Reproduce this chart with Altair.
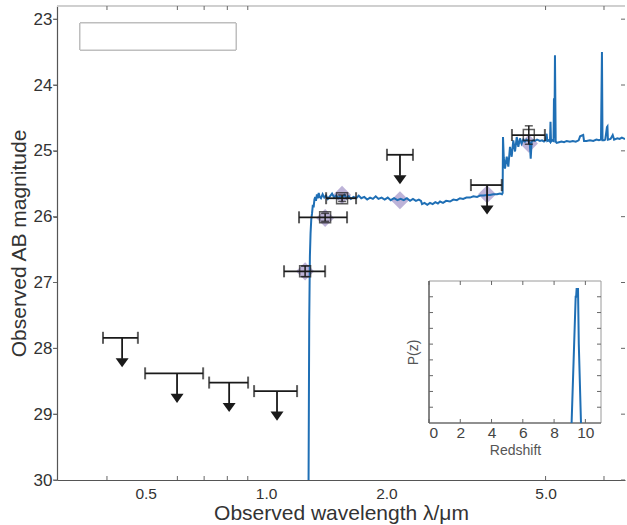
import altair as alt
import pandas as pd

# ---- best-fit template spectrum (observed wavelength in micron, AB mag) ----
spec_lam = [1.276, 1.282, 1.287, 1.292, 1.297, 1.303, 1.309, 1.315, 1.321, 1.327,
            1.333, 1.340, 1.347, 1.354, 1.362, 1.372, 1.385, 1.398, 1.412, 1.427,
            1.445, 1.462, 1.480, 1.497, 1.515, 1.531, 1.550, 1.570, 1.590, 1.610,
            1.630, 1.655, 1.680, 1.705, 1.730, 1.760, 1.790, 1.820, 1.850, 1.880,
            1.910, 1.945, 1.980, 2.015, 2.050, 2.090, 2.130, 2.170, 2.210, 2.250,
            2.291, 2.330, 2.370, 2.410, 2.440, 2.455, 2.490, 2.530, 2.570, 2.610,
            2.650, 2.690, 2.723, 2.770, 2.820, 2.884, 2.940, 3.000, 3.055, 3.110,
            3.170, 3.236, 3.300, 3.370, 3.428, 3.500, 3.570, 3.631, 3.700, 3.780,
            3.846, 3.890, 3.905, 3.913, 3.930, 3.958, 3.998, 4.035, 4.074, 4.114,
            4.152, 4.194, 4.235, 4.274, 4.315, 4.357, 4.397, 4.440, 4.480, 4.530,
            4.565, 4.590, 4.615, 4.660, 4.705, 4.760, 4.842, 4.900, 4.955, 5.000,
            5.031, 5.050, 5.090, 5.129, 5.144, 5.160, 5.200, 5.235, 5.248, 5.262,
            5.278, 5.300, 5.330, 5.400, 5.480, 5.560, 5.650, 5.754, 5.850, 5.950,
            6.050, 6.100, 6.210, 6.240, 6.330, 6.457, 6.580, 6.700, 6.800, 6.880,
            6.918, 6.940, 7.000, 7.050, 7.120, 7.140, 7.160, 7.270, 7.360, 7.420,
            7.560, 7.660, 7.760, 7.900]
spec_mag = [30.60, 27.60, 26.60, 26.25, 26.05, 25.95, 25.82, 25.86, 25.74, 25.70,
            25.76, 25.66, 25.72, 25.64, 25.70, 25.72, 25.66, 25.71, 25.68, 25.73,
            25.69, 25.65, 25.71, 25.68, 25.72, 25.69, 25.71, 25.67, 25.72, 25.69,
            25.73, 25.70, 25.72, 25.68, 25.72, 25.70, 25.74, 25.71, 25.73, 25.69,
            25.73, 25.71, 25.74, 25.71, 25.75, 25.72, 25.75, 25.73, 25.75, 25.72,
            25.76, 25.73, 25.76, 25.74, 25.76, 25.81, 25.79, 25.82, 25.79, 25.81,
            25.78, 25.80, 25.77, 25.79, 25.76, 25.77, 25.74, 25.75, 25.72, 25.73,
            25.71, 25.71, 25.69, 25.70, 25.68, 25.68, 25.67, 25.67, 25.66, 25.66,
            25.65, 25.66, 25.64, 24.79, 25.10, 25.27, 25.09, 25.24, 24.94, 25.09,
            24.84, 25.01, 24.79, 24.94, 24.81, 24.89, 24.83, 24.86, 24.83, 24.85,
            24.88, 25.12, 24.86, 24.84, 24.85, 24.83, 24.85, 24.84, 24.86, 24.84,
            24.74, 24.85, 24.84, 24.86, 24.56, 24.86, 24.84, 24.85, 24.20, 24.80,
            23.55, 24.86, 24.88, 24.87, 24.86, 24.87, 24.85, 24.86, 24.85, 24.86,
            24.84, 24.78, 24.76, 24.85, 24.85, 24.84, 24.85, 24.83, 24.84, 24.83,
            23.50, 24.84, 24.84, 24.83, 24.64, 24.63, 24.83, 24.82, 24.76, 24.83,
            24.81, 24.82, 24.80, 24.82]

# ---- model photometry in each band ----
model_lam = [1.252, 1.405, 1.549, 2.162, 3.570, 4.540]
model_mag = [26.83, 26.02, 25.67, 25.75, 25.66, 24.89]

# ---- detections ----
det_lam = [1.252, 1.405, 1.549, 4.540]
det_lo = [1.109, 1.209, 1.413, 4.120]
det_hi = [1.405, 1.594, 1.679, 4.980]
det_mag = [26.83, 26.01, 25.72, 24.76]
det_err = [0.08, 0.06, 0.05, 0.14]

# ---- upper limits ----
lim_lam = [0.4365, 0.5989, 0.8084, 1.065, 2.162, 3.570]
lim_lo = [0.391, 0.4983, 0.7204, 0.9333, 2.006, 3.253]
lim_hi = [0.478, 0.696, 0.9016, 1.1954, 2.330, 3.886]
lim_mag = [27.84, 28.38, 28.52, 28.65, 25.06, 25.52]

# ---- redshift probability distribution ----
pz_z = [9.12, 9.38, 9.41, 9.44, 9.53, 9.58, 9.72]
pz_p = [0.0, 8.0, 8.0, 8.5, 8.5, 5.0, 0.0]

x_ticks = [0.5, 1.0, 2.0, 5.0]
x_minor = [0.4, 0.6, 0.7, 0.8, 0.9, 5.0, 7.0]
y_ticks = [23, 24, 25, 26, 27, 28, 29, 30]
z_ticks = [0, 2, 4, 6, 8, 10]
p_ticks = [1, 2, 3, 4, 5, 6, 7, 8]

X_DOM = [0.3, 7.9]
Y_DOM = [22.8, 30]
Z_DOM = [0, 11]
P_DOM = [0, 9]

W, H = 568, 474
BLUE = "#1f6fb5"
INK = "#1a1a1a"
TICK = "#666666"
FONT = "Liberation Sans"

spec = pd.DataFrame({"lam": spec_lam, "mag": spec_mag})
model = pd.DataFrame({"lam": model_lam, "mag": model_mag})
det = pd.DataFrame({"lam": det_lam, "lo": det_lo, "hi": det_hi, "mag": det_mag,
                    "top": [m - e for m, e in zip(det_mag, det_err)],
                    "bot": [m + e for m, e in zip(det_mag, det_err)]})
lim = pd.DataFrame({"lam": lim_lam, "lo": lim_lo, "hi": lim_hi, "mag": lim_mag})
caps = pd.DataFrame({"lam": det_lo + det_hi + lim_lo + lim_hi,
                     "mag": det_mag + det_mag + lim_mag + lim_mag})
vcaps = pd.DataFrame({"lam": det_lam + det_lam,
                      "mag": [m - e for m, e in zip(det_mag, det_err)] +
                             [m + e for m, e in zip(det_mag, det_err)]})
pz = pd.DataFrame({"z": pz_z, "p": pz_p})
inset_box = pd.DataFrame({"z0": [Z_DOM[0]], "z1": [Z_DOM[1]],
                          "p0": [P_DOM[0]], "p1": [P_DOM[1]]})

# tick positions along the frame edges
top_t = pd.DataFrame({"lam": x_minor, "mag": Y_DOM[0]})
bot_t = pd.DataFrame({"lam": x_minor, "mag": Y_DOM[1]})
right_t = pd.DataFrame({"lam": X_DOM[1], "mag": y_ticks})
left_t = pd.DataFrame({"lam": X_DOM[0], "mag": y_ticks})
z_bot_t = pd.DataFrame({"z": z_ticks, "p": P_DOM[0]})
z_top_t = pd.DataFrame({"z": z_ticks, "p": P_DOM[1]})
p_left_t = pd.DataFrame({"z": Z_DOM[0], "p": p_ticks})
p_right_t = pd.DataFrame({"z": Z_DOM[1], "p": p_ticks})

xs = alt.Scale(type="log", domain=X_DOM, nice=False)
ys = alt.Scale(domain=Y_DOM, reverse=True, nice=False, zero=False)


def X(field, axis=None):
    return alt.X(field, type="quantitative", scale=xs, axis=axis)


def Y(field, axis=None):
    return alt.Y(field, type="quantitative", scale=ys, axis=axis)


x_axis = alt.Axis(values=x_ticks, format=".1f", ticks=False, labelPadding=6,
                  title="Observed wavelength λ/μm", titlePadding=1,
                  labelFontSize=15.5, titleFontSize=21, grid=False)
y_axis = alt.Axis(values=y_ticks, format="d", tickSize=4, labelPadding=1,
                  title="Observed AB magnitude", titlePadding=4,
                  labelFontSize=17, titleFontSize=21, grid=False)

# frame line along the top and empty legend frame
top_line = alt.Chart(model).mark_rule(color="#cfcfcf", strokeWidth=1).encode(
    x=alt.value(0), x2=alt.value(W), y=alt.value(0))
legend_box = alt.Chart(model).mark_rect(fill="white", stroke="#bdbdbd", strokeWidth=1).encode(
    x=alt.value(23), x2=alt.value(179), y=alt.value(17), y2=alt.value(44))

# frame ticks (inward on top/right/bottom, outward on the left)
ticks_top = alt.Chart(top_t).mark_rule(color=TICK, strokeWidth=1, y2Offset=4).encode(
    x=X("lam"), y=Y("mag"), y2="mag")
ticks_bot = alt.Chart(bot_t).mark_rule(color=TICK, strokeWidth=1, y2Offset=-4).encode(
    x=X("lam"), y=Y("mag"), y2="mag")
ticks_right = alt.Chart(right_t).mark_rule(color=TICK, strokeWidth=1, x2Offset=-4).encode(
    x=X("lam"), x2="lam", y=Y("mag"))
ticks_left = alt.Chart(left_t).mark_rule(color=TICK, strokeWidth=1, x2Offset=-4).encode(
    x=X("lam"), x2="lam", y=Y("mag"))

diamonds = alt.Chart(model).mark_point(shape="diamond", size=330, filled=True,
                                       color="#9484c0", opacity=0.62).encode(
    x=X("lam"), y=Y("mag"))

line = alt.Chart(spec).mark_line(color=BLUE, strokeWidth=2, clip=True).encode(
    x=X("lam", x_axis), y=Y("mag", y_axis), order="lam:Q")

hbars_det = alt.Chart(det).mark_rule(color=INK, strokeWidth=1.8).encode(
    x=X("lo"), x2="hi", y=Y("mag"))
hbars_lim = alt.Chart(lim).mark_rule(color=INK, strokeWidth=1.8).encode(
    x=X("lo"), x2="hi", y=Y("mag"))
end_caps = alt.Chart(caps).mark_tick(orient="vertical", size=12, thickness=2, color=INK).encode(
    x=X("lam"), y=Y("mag"))
vbars = alt.Chart(det).mark_rule(color=INK, strokeWidth=1.5).encode(
    x=X("lam"), y=Y("top"), y2="bot")
v_caps = alt.Chart(vcaps).mark_tick(orient="horizontal", size=8, thickness=1.5, color=INK).encode(
    x=X("lam"), y=Y("mag"))
squares = alt.Chart(det).mark_point(shape="square", size=120, filled=False,
                                    strokeWidth=1.5, color=INK).encode(
    x=X("lam"), y=Y("mag"))
stems = alt.Chart(lim).mark_rule(color=INK, strokeWidth=1.8, y2Offset=21).encode(
    x=X("lam"), y=Y("mag"), y2="mag")
heads = alt.Chart(lim).mark_point(shape="M-1,-0.7L0,0.7L1,-0.7Z", size=169, filled=True,
                                  opacity=1, color=INK, yOffset=25).encode(
    x=X("lam"), y=Y("mag"))

main = alt.layer(top_line, legend_box, ticks_top, ticks_bot, ticks_right, ticks_left,
                 diamonds, line, hbars_det, hbars_lim, end_caps,
                 vbars, v_caps, squares, stems, heads
                 ).resolve_axis(x="independent", y="independent")

# ---- inset: P(z) ----
ZX0, ZX1, PY0, PY1 = 372, 544, 417, 275
zs = alt.Scale(domain=Z_DOM, range=[ZX0, ZX1], nice=False, zero=False)
ps = alt.Scale(domain=P_DOM, range=[PY0, PY1], nice=False, zero=False)


def ZX(field, axis=None):
    return alt.X(field, type="quantitative", scale=zs, axis=axis)


def PY(field, axis=None):
    return alt.Y(field, type="quantitative", scale=ps, axis=axis)


box = alt.Chart(inset_box).mark_rect(fill="white", stroke="#9a9a9a", strokeWidth=1).encode(
    x=ZX("z0"), x2="z1", y=PY("p0"), y2="p1")
box_left = alt.Chart(inset_box).mark_rule(color="#555555", strokeWidth=1.2).encode(
    x=ZX("z0"), y=PY("p0"), y2="p1")
box_bottom = alt.Chart(inset_box).mark_rule(color="#555555", strokeWidth=1.2).encode(
    x=ZX("z0"), x2="z1", y=PY("p0"))

iticks_bot = alt.Chart(z_bot_t).mark_rule(color=TICK, strokeWidth=1, y2Offset=-4).encode(
    x=ZX("z"), y=PY("p"), y2="p")
iticks_top = alt.Chart(z_top_t).mark_rule(color=TICK, strokeWidth=1, y2Offset=4).encode(
    x=ZX("z"), y=PY("p"), y2="p")
iticks_left = alt.Chart(p_left_t).mark_rule(color=TICK, strokeWidth=1, x2Offset=4).encode(
    x=ZX("z"), x2="z", y=PY("p"))
iticks_right = alt.Chart(p_right_t).mark_rule(color=TICK, strokeWidth=1, x2Offset=-4).encode(
    x=ZX("z"), x2="z", y=PY("p"))

pz_line = alt.Chart(pz).mark_line(color=BLUE, strokeWidth=2).encode(
    x=ZX("z", alt.Axis(
        orient="bottom", values=z_ticks, format="d", ticks=True, tickSize=4,
        tickOpacity=0, offset=-(H - PY0) - 4, domain=False, labelPadding=2.5,
        labelFontSize=15.5, title="Redshift", titleFontSize=14, titlePadding=2,
        grid=False, labelColor="#444", titleColor="#555")),
    y=PY("p", alt.Axis(
        orient="left", values=p_ticks, labels=False, ticks=True, tickSize=4,
        tickOpacity=0, offset=-ZX0 - 4, domain=False, title="P(z)", titleFontSize=14,
        titlePadding=9, grid=False, titleColor="#555")),
    order="z:Q")

inset = alt.layer(box, box_left, box_bottom, iticks_bot, iticks_top, iticks_left,
                  iticks_right, pz_line
                  ).resolve_axis(x="independent", y="independent")

chart = alt.layer(main, inset).resolve_scale(
    x="independent", y="independent"
).resolve_axis(
    x="independent", y="independent"
).properties(
    width=W, height=H,
    padding={"left": 57, "top": 6, "right": 2, "bottom": 45},
    autosize=alt.AutoSizeParams(type="none"),
).configure_view(
    stroke=None
).configure_axis(
    labelFont=FONT, titleFont=FONT, labelColor="#333333", titleColor="#333333",
    titleFontWeight="normal", domainColor="#555555", tickColor=TICK,
    domainWidth=1.2, tickWidth=1, zindex=1
)

chart.save("out.html", embed_options={"renderer": "svg", "actions": False})
